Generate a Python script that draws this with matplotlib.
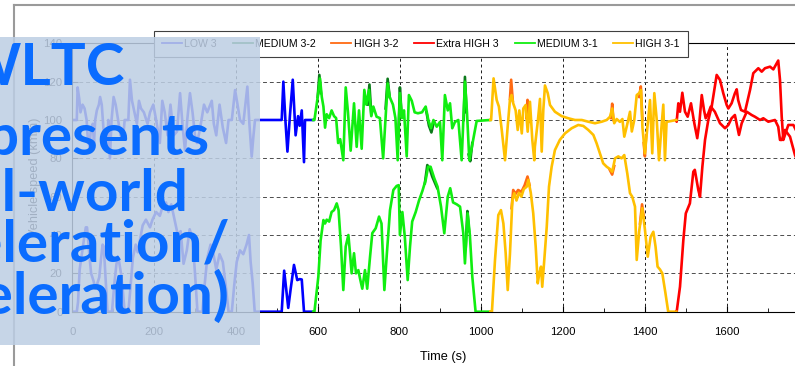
import numpy as np
import matplotlib
matplotlib.use('Agg')
import matplotlib.pyplot as plt
import matplotlib.font_manager as fm
from matplotlib.patches import Rectangle
from matplotlib.lines import Line2D
from matplotlib.ticker import MultipleLocator

NAN = (np.nan, np.nan)

# ---- data: (time s, value) ----
# lower traces = vehicle speed, upper traces = the second trace drawn around 100
low_speed = [(0, 0), (11, 0), (14, 5), (18, 22), (22, 28), (28, 37), (33, 44), (36, 44), (42, 29), (46, 20),
             (52, 16), (56, 12), (60, 14), (66, 18), (70, 27), (74, 35), (77, 34), (82, 15), (86, 0), (97, 0),
             (103, 15), (108, 25), (113, 28), (119, 20), (124, 10), (128, 0), (137, 0), (142, 12), (148, 28),
             (155, 35), (160, 31), (166, 38), (172, 45), (180, 48), (190, 44), (196, 48), (205, 52), (214, 50),
             (221, 55), (229, 57), (235, 52), (242, 56), (250, 48), (258, 40), (265, 42), (272, 25), (280, 32),
             (287, 43), (294, 38), (300, 20), (306, 0), (318, 0), (324, 15), (330, 28), (338, 35), (345, 30),
             (352, 22), (360, 30), (368, 26), (376, 12), (382, 0), (390, 0), (396, 14), (402, 26), (410, 32),
             (418, 30), (426, 35), (432, 40), (436, 26), (441, 15), (446, 0), (512, 0), (518, 21.4), (528, 2),
             (534, 12), (542, 24.4), (550, 16.5), (556, 17), (561, 16.8), (566.5, 0), (589, 0)]
low_upper = [(0, 100), (11, 100), (13, 117), (17, 111), (20, 104), (25, 108), (30, 106), (35, 100), (38, 90),
             (42, 86), (45, 94), (50, 98), (53, 88), (56, 100), (60, 105), (65, 108), (68, 112), (72, 108),
             (76, 96), (80, 88), (85, 86), (88, 100), (92, 80), (96, 100), (101, 112), (106, 108), (112, 100),
             (118, 92), (124, 90), (128, 100), (137, 100), (141, 121), (146, 110), (152, 104), (158, 98),
             (163, 110), (168, 106), (175, 104), (184, 98), (190, 104), (198, 108), (205, 100), (214, 88),
             (220, 110), (226, 104), (233, 92), (240, 108), (248, 92), (256, 94), (263.5, 114), (270, 96),
             (275.6, 84), (281, 100), (287.7, 114), (294, 104), (300, 92), (305, 88), (312, 95), (322, 108),
             (330, 104), (341, 110), (346, 98), (352, 92), (360, 108), (368, 96), (376, 88), (382, 100),
             (390, 100), (398, 115.6), (404, 108), (410, 100), (418, 98), (428, 117.4), (433, 98), (438.6, 80.9),
             (443, 92), (446.7, 100), (512, 100), (516, 120), (521, 100), (526, 83.5), (532, 102), (539, 121),
             (546, 92), (552, 102), (556, 97), (561, 105), (566.5, 78), (569, 100), (589, 100)]

med31_upper = [(589, 100), (592, 100), (600, 112), (605.6, 121.7), (610, 112), (614, 107), (618, 96), (622, 103),
               (628, 101), (634, 105), (640, 102), (645, 101), (650, 88), (655, 90), (662.6, 79), (668.5, 117),
               (674, 104), (680.6, 84), (688.8, 108.7), (695.3, 86), (701, 105), (707.5, 85), (714, 115.7),
               (719, 108), (725.4, 115.7), (731, 102), (736, 107), (744, 101.7), (752, 101), (760, 80), (771, 119),
               (776, 112), (784, 108), (790, 101), (795.6, 79), (801, 114), (806, 101), (811, 105), (817.6, 81),
               (823, 113), (830, 110), (837, 104), (845, 103.5), (855, 104), (864, 107), (870.4, 100), (877, 95.7),
               (883, 100), (891, 96.5), (899, 99), (904.6, 79), (911, 113), (918, 105), (923.5, 108.7),
               (929, 95.7), (935.7, 99), (943.8, 100), (952, 79), (960, 120), (965, 104), (970.7, 79), (977, 86),
               (983, 93), (988.7, 99.5), (1022, 100)]
med31_speed = [(589, 0), (592, 0), (601.6, 18.3), (607, 37), (614, 47.8), (618, 46), (622, 48), (628, 47),
               (634, 52), (640, 53), (646.5, 56.5), (651, 53), (657, 34), (662.6, 11.3), (668.5, 34), (675, 40),
               (679, 30.5), (683, 20), (688.8, 30.5), (693.6, 20), (699.4, 21.7), (703.4, 17.4), (709, 12),
               (715.6, 21.7), (721, 12), (728, 28.7), (733.5, 41), (741.8, 43.5), (750, 49.6), (756, 46),
               (763, 11.3), (769, 30), (776.8, 53), (785, 63.5), (793, 65.6), (798, 66), (801, 40), (807, 52),
               (813, 39), (820, 16.5), (825.7, 34), (831, 47), (839.6, 52), (847.7, 58), (856, 63), (864, 68.7),
               (870, 75.6), (876, 75.6), (885, 69.6), (893, 65.2), (901.5, 54.8), (909.5, 40.9), (918, 60),
               (924, 64.4), (931, 57), (940, 56), (948, 54.8), (956, 40.9), (960, 25.2), (966.7, 51.3), (972, 40),
               (978, 18.3), (986, 0), (1022, 0)]
# MEDIUM 3-2 only shows where it leaves the 3-1 trace
med32_upper = [(600, 112), (604, 123.5), (608, 114), NAN, (722, 108), (726.5, 118.5), (731, 103), NAN,
               (766, 106), (771, 121.5), (776, 112), NAN, (797, 90), (801, 117), (805, 103), NAN,
               (866, 104), (872, 97), (878, 93.5), (884, 99), NAN, (957, 100), (960, 122.5), (964, 104), NAN,
               (969, 82), (973, 78.5), (978, 88)]
med32_speed = [(862, 67), (868, 76.5), (874, 74.5), (880, 70.5), (886, 67.5), (892, 64.5), NAN,
               (962, 34), (966, 52.5), (970, 42)]

high31_upper = [(1022, 100), (1024, 100), (1030, 121.7), (1037.6, 110.4), (1043, 107), (1050, 94.8), (1058, 79),
                (1064.5, 96.5), (1070, 110.4), (1074, 113), (1078, 108.7), (1084, 105), (1089, 94.8), (1093, 105),
                (1099, 93), (1102.7, 106), (1108.5, 107.8), (1113.4, 93.9), (1119, 109.5), (1124.7, 89.6),
                (1129.6, 79), (1131, 86), (1138, 99), (1143.5, 111), (1147.7, 83.5), (1151.6, 105.2),
                (1155.7, 118), (1162.4, 114), (1168, 107.8), (1180, 104.3), (1196.6, 102), (1212.7, 100.9),
                (1229, 100), (1245.6, 100), (1261.6, 99.1), (1278, 98.3), (1294.4, 99.1), (1306.6, 100),
                (1314.7, 101.7), (1320, 106), (1325, 98.3), (1331, 100.5), (1339, 99), (1345, 100.5),
                (1349.6, 91.3), (1356, 97), (1363.6, 104.3), (1368, 94), (1374, 100), (1380, 113), (1386, 114),
                (1390.5, 115.6), (1394, 96), (1400, 82.6), (1406, 96), (1412.5, 110.4), (1418, 82.6), (1423, 114),
                (1429, 100), (1434.5, 79), (1440, 95), (1445, 108), (1449, 79), (1453, 99), (1477, 100)]
high31_speed = [(1022, 0), (1026, 0), (1033.5, 27), (1041.6, 50.4), (1048, 53), (1054, 46), (1059.6, 30.5),
                (1064.6, 11.3), (1070, 30), (1076, 58.3), (1080.7, 61.8), (1086, 58), (1092, 62), (1098, 60),
                (1104, 64), (1111, 65.2), (1115, 68.7), (1121, 62), (1127, 51.3), (1133, 34), (1138, 14.8),
                (1142, 20), (1146, 23.5), (1149, 13), (1154, 27), (1160, 44.3), (1165.5, 65.2), (1172, 75.6),
                (1180, 84.3), (1192, 89.6), (1204.6, 93), (1221, 95.7), (1237, 97.4), (1249.4, 96.9),
                (1261.6, 94.8), (1274, 92.2), (1282, 87.8), (1290, 82.6), (1298, 77.4), (1306.6, 75.6),
                (1314, 74.5), (1320, 73), (1327, 80), (1335, 81), (1343, 80), (1349.6, 81.7), (1357, 72),
                (1363.6, 61.8), (1369, 60), (1375.8, 54.8), (1380, 27), (1386, 42), (1393.6, 54), (1400, 43),
                (1407, 28.7), (1414, 39), (1420.6, 41.7), (1426, 34), (1431, 23.5), (1437, 22), (1442.6, 20),
                (1450, 10), (1457, 0), (1477, 0)]
high32_upper = [(1070, 111), (1073, 121), (1077, 110), NAN, (1110, 101), (1113, 110.5), (1116, 99), NAN,
                (1317, 101), (1320, 108.5), (1323, 100), NAN, (1386, 112), (1390, 117.5), (1394, 100), NAN,
                (1397, 88), (1400, 81), (1403, 92)]
high32_speed = [(1074, 54), (1078, 63.5), (1084, 61.5), (1090, 63.5), (1098, 62.5), (1106, 66), (1113, 70.5),
                (1118, 66), NAN, (1314, 74), (1320, 71.5), (1325, 76), NAN, (1388, 46), (1393, 56), (1397, 50)]

extra_upper = [(1477, 100), (1477.7, 99.1), (1481.7, 108.7), (1485.8, 104.3), (1491.5, 114.2), (1498, 104.3),
               (1504.6, 101.7), (1512.7, 108.7), (1520.8, 98.3), (1528, 90.5), (1533, 98.3), (1539, 113),
               (1544.5, 105.2), (1548.6, 100.9), (1555, 103.5), (1561, 107), (1571, 104.3), (1583.6, 98.3),
               (1595.8, 95.7), (1604, 97.4), (1612, 100.9), (1620, 102.6), (1630, 92.2), (1636.7, 98.3),
               (1649, 104.3), (1661, 102.6), (1669, 101.7), (1681.5, 100), (1689.5, 100.9), (1701.7, 99.1),
               (1718, 100), (1726, 96.5), (1730.3, 89.6), (1735, 89.6), (1742.5, 94.8), (1754.8, 91.3),
               (1767, 81.7), (1780, 75), (1800, 100)]
extra_speed = [(1477, 0), (1477.7, 0), (1485.8, 13), (1494, 37.4), (1500, 51.3), (1510, 56.5), (1518.4, 73),
               (1522, 74), (1530.6, 63.5), (1534.7, 60), (1540.5, 75.6), (1547, 89.6), (1555, 100), (1563.3, 107),
               (1575.5, 123.5), (1583.6, 120.9), (1591.7, 113.9), (1600, 107.8), (1604, 106), (1612, 108.7),
               (1620, 113.9), (1624.5, 116), (1628, 110.4), (1635, 105.2), (1644.7, 104.3), (1657, 115.6),
               (1665, 124.4), (1677.3, 127), (1685.6, 125.2), (1693.6, 127), (1705.9, 127.8), (1714, 126.4),
               (1726, 131), (1730.3, 120.9), (1734.5, 101.7), (1738.4, 89.6), (1742.5, 92.2), (1750.6, 97.4),
               (1763, 97.4), (1767, 95.7), (1780, 90), (1800, 80)]

series_labels = ['LOW 3', 'MEDIUM 3-2', 'HIGH 3-2', 'Extra HIGH 3', 'MEDIUM 3-1', 'HIGH 3-1']
series_colors = ['#0000ff', '#0b7a1a', '#ff6a13', '#ff0000', '#10ee10', '#ffc000']
series_traces = [[low_upper, low_speed], [med32_upper, med32_speed], [high32_upper, high32_speed],
                 [extra_upper, extra_speed], [med31_upper, med31_speed], [high31_upper, high31_speed]]

x_ticks = [0, 200, 400, 600, 800, 1000, 1200, 1400, 1600, 1800]
x_tick_labels = ['0', '200', '400', '600', '800', '1000', '1200', '1400', '1600', '']

overlay_lines = ['WLTC', '(represents', 'real-world', 'acceleration/', 'deceleration)']

# ---- fonts ----
avail = {f.name for f in fm.fontManager.ttflist}


def pick(*names):
    for n in names:
        if n in avail:
            return n
    return 'DejaVu Sans'


narrow = 'Liberation Sans Narrow' in avail
small_font = pick('Liberation Sans Narrow', 'Liberation Sans', 'Arial')
legend_size = 8.5 if narrow else 7.6
tick_size = 9 if narrow else 8.2
big_font = pick('Lato', 'Open Sans', 'DejaVu Sans')

W, H = 795, 366
fig = plt.figure(figsize=(W / 100, H / 100), dpi=100)
x0, x1, yb, yt = 72.3, 808.5, 311.7, 43.3
ax = fig.add_axes([x0 / W, 1 - yb / H, (x1 - x0) / W, (yb - yt) / H])

for label, color, traces in zip(series_labels, series_colors, series_traces):
    for i, tr in enumerate(traces):
        t, v = np.array(tr, dtype=float).T
        ax.plot(t, v, color=color, lw=1.9, solid_joinstyle='round',
                label=label if i == 0 else None)

ax.set_xlim(0, 1800)
ax.set_ylim(0, 140)
ax.set_xticks(x_ticks)
ax.set_xticklabels(x_tick_labels)
ax.xaxis.set_minor_locator(MultipleLocator(100))
ax.yaxis.set_major_locator(MultipleLocator(20))
ax.xaxis.grid(True, color='0.1', lw=0.7, ls=(0, (3, 3)))
ax.yaxis.grid(True, color='0.3', lw=0.7, ls=(0, (4, 3)))
ax.set_axisbelow(True)
ax.tick_params(axis='both', which='both', direction='in', labelsize=tick_size)
ax.tick_params(axis='x', which='major', length=4, pad=11)
ax.tick_params(axis='x', which='minor', length=3)
ax.tick_params(axis='y', which='major', length=4, pad=7)
for lab in ax.get_xticklabels() + ax.get_yticklabels():
    lab.set_fontfamily(small_font)
for s in ['left', 'bottom', 'top']:
    ax.spines[s].set_linewidth(0.8)
ax.spines['right'].set_visible(False)

ax.set_xlabel('Time (s)', fontsize=tick_size + 1, fontfamily=small_font, va='center')
ax.xaxis.set_label_coords((443 - x0) / (x1 - x0), (yb - 357) / (yb - yt))
ax.set_ylabel('Vehicle speed (km/h)', fontsize=tick_size + 1, fontfamily=small_font, va='center')
ax.yaxis.set_label_coords((35 - x0) / (x1 - x0), 0.5)

leg = ax.legend(loc='center', bbox_to_anchor=((421 - x0) / (x1 - x0), (yb - 44) / (yb - yt)),
                ncol=6, frameon=True, fancybox=False, framealpha=1, edgecolor='0.25',
                prop={'family': small_font, 'size': legend_size}, handlelength=1.9,
                handletextpad=0.2, columnspacing=1.5, borderpad=0.8, borderaxespad=0)
leg.get_frame().set_linewidth(0.8)
for ln in leg.get_lines():
    ln.set_linewidth(1.3)

# outer window frame
fig.add_artist(Line2D([14 / W, 14 / W], [0, 1 - 5 / H], color='#9a9a9a', lw=1.5, zorder=0.5))
fig.add_artist(Line2D([14 / W, 1], [1 - 5 / H, 1 - 5 / H], color='#9a9a9a', lw=1.5, zorder=0.5))

# translucent callout box with big text
fig.add_artist(Rectangle((0, 1 - 345 / H), 260 / W, (345 - 37) / H, transform=fig.transFigure,
                         facecolor='#bdcee4', edgecolor='none', alpha=0.86, zorder=2))
right_edges = [125, 210, 188, 230, 229]
baselines = [85, 155, 211, 261, 314]
for txt, xr, yb_ in zip(overlay_lines, right_edges, baselines):
    fig.text(xr / W, 1 - yb_ / H, txt, ha='right', va='baseline', fontsize=42,
             fontweight='bold', fontfamily=big_font, color='#0a6cff', zorder=3)

fig.savefig('out.png', dpi=100)
